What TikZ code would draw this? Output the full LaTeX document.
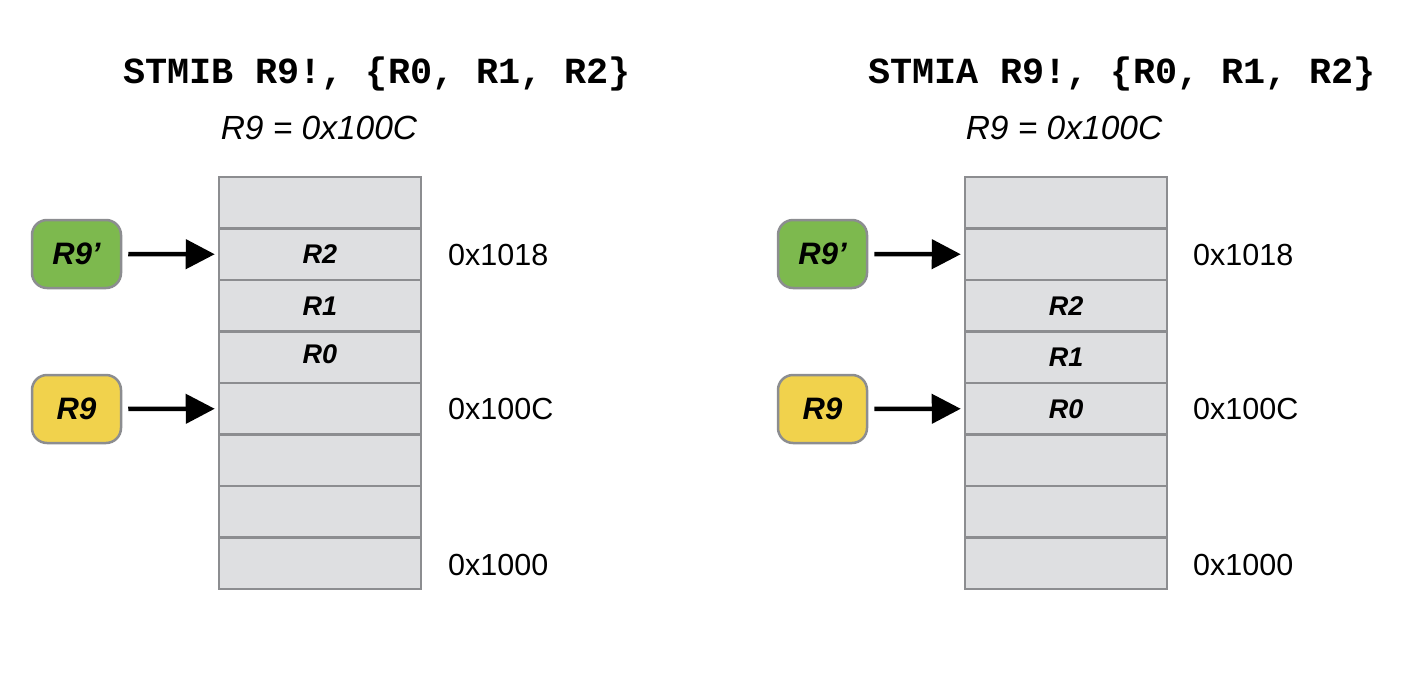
\documentclass[tikz,border=0pt]{standalone}
\usepackage{fontspec}
\setmainfont{Liberation Sans}
\newfontfamily\codefont{Liberation Mono}
\usetikzlibrary{arrows.meta}
\definecolor{cellfill}{HTML}{DEDFE1}
\definecolor{cellline}{HTML}{8C8D90}
\definecolor{badgegreen}{HTML}{7DB94E}
\definecolor{badgeyellow}{HTML}{F1D24C}
\tikzset{
  cell/.style={draw=cellline, fill=cellfill, line width=2.5pt, minimum width=202pt, minimum height=51.5pt, inner sep=0pt, font=\fontsize{27}{30}\selectfont\bfseries\itshape},
  badge/.style={draw=cellline, line width=2.5pt, rounded corners=15pt, minimum width=89pt, minimum height=68pt, inner sep=0pt, font=\fontsize{31}{34}\selectfont\bfseries\itshape},
  ptr/.style={line width=4.5pt, -{Triangle[length=29pt,width=29pt]}, shorten <=6pt, shorten >=3pt},
  title/.style={font=\codefont\fontsize{36.8}{40}\selectfont\bfseries, inner sep=0pt},
  sub/.style={font=\fontsize{33.5}{36}\selectfont\itshape, inner sep=0pt},
  addr/.style={font=\fontsize{30.5}{34}\selectfont, anchor=west, inner sep=0pt}
}
\begin{document}
\begin{tikzpicture}[x=1pt,y=-1pt]
\useasboundingbox (0,0) rectangle (1410,688);
% left
\node[title] (tl) at (377,74) {STMIB R9!, \{R0, R1, R2\}};
\node[sub] (sl) at (319,128) {R9 = 0x100C};
\node[cell] (L0) at (320,202.75) {};
\node[cell] (L1) at (320,254.25) {R2};
\node[cell] (L2) at (320,305.75) {R1};
\node[cell,text depth=6pt] (L3) at (320,357.25) {R0};
\node[cell] (L4) at (320,408.75) {};
\node[cell] (L5) at (320,460.25) {};
\node[cell] (L6) at (320,511.75) {};
\node[cell] (L7) at (320,563.25) {};
\node[badge, fill=badgegreen] (bl1) at (76.5,254) {R9’};
\node[badge, fill=badgeyellow] (bl2) at (76.5,409) {R9};
\draw[ptr] (bl1.east) -- (L1.west);
\draw[ptr] (bl2.east) -- (L4.west);
\node[addr] (al1) at (448,255) {0x1018};
\node[addr] (al2) at (448,409) {0x100C};
\node[addr] (al3) at (448,565) {0x1000};
% right
\node[title] (tr) at (1122,74) {STMIA R9!, \{R0, R1, R2\}};
\node[sub] (sr) at (1064,128) {R9 = 0x100C};
\node[cell] (R0c) at (1066,202.75) {};
\node[cell] (R1c) at (1066,254.25) {};
\node[cell] (R2c) at (1066,305.75) {R2};
\node[cell] (R3c) at (1066,357.25) {R1};
\node[cell] (R4c) at (1066,408.75) {R0};
\node[cell] (R5c) at (1066,460.25) {};
\node[cell] (R6c) at (1066,511.75) {};
\node[cell] (R7c) at (1066,563.25) {};
\node[badge, fill=badgegreen] (br1) at (822.5,254) {R9’};
\node[badge, fill=badgeyellow] (br2) at (822.5,409) {R9};
\draw[ptr] (br1.east) -- (R1c.west);
\draw[ptr] (br2.east) -- (R4c.west);
\node[addr] (ar1) at (1193,255) {0x1018};
\node[addr] (ar2) at (1193,409) {0x100C};
\node[addr] (ar3) at (1193,565) {0x1000};
\end{tikzpicture}
\end{document}
